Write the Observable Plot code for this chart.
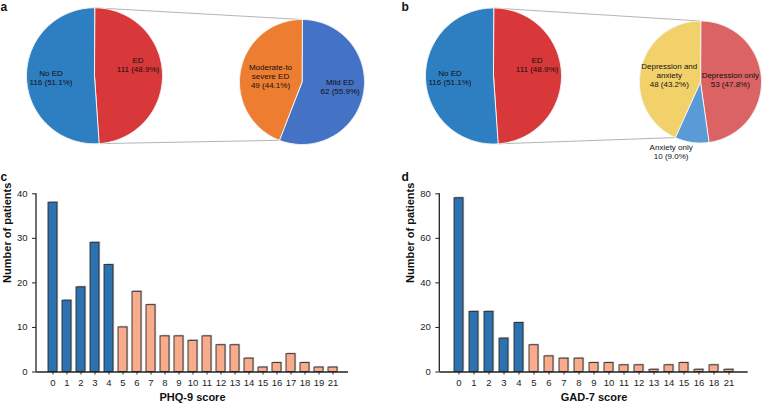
<!DOCTYPE html>
<html><head><meta charset="utf-8">
<script src="https://cdn.jsdelivr.net/npm/d3@7"></script>
<script src="https://cdn.jsdelivr.net/npm/@observablehq/plot@0.6"></script>
<style>
body{margin:0;background:#fff}
#fig{position:relative;width:762px;height:406px;overflow:hidden;font-family:"Liberation Sans",Arial,sans-serif;background:#fff}
#fig .panel{position:absolute}
#fig .letter{position:absolute;font-weight:bold;font-size:12px;line-height:14px;color:#111}
</style></head><body>
<div id="fig"></div>
<script>
// ---------------- data ----------------
const edGroups = ["ED", "No ED"];
const edCounts = [111, 116];
const edPercents = [48.9, 51.1];

const severityGroups = ["Mild ED", "Moderate-to\nsevere ED"];
const severityCounts = [62, 49];
const severityPercents = [55.9, 44.1];

const typeGroups = ["Depression only", "Anxiety only", "Depression and\nanxiety"];
const typeCounts = [53, 10, 48];
const typePercents = [47.8, 9.0, 43.2];

const phqScores = ["0","1","2","3","4","5","6","7","8","9","10","11","12","13","14","15","16","17","18","19","21"];
const phqCounts = [38,16,19,29,24,10,18,15,8,8,7,8,6,6,3,1,2,4,2,1,1];
const phqTicks = [0,10,20,30,40];

const gadScores = ["0","1","2","3","4","5","6","7","8","9","10","11","12","13","14","15","16","18","21"];
const gadCounts = [78,27,27,15,22,12,7,6,6,4,4,3,3,1,3,4,1,3,1];
const gadTicks = [0,20,40,60,80];

const cutoff = 5;

// ---------------- styles / layout ----------------
const edColors = ["#D9383A", "#2E7EC2"];
const severityColors = ["#4472C4", "#ED7D31"];
const typeColors = ["#DB6363", "#5B9BD5", "#F2D16B"];
const barLow = "#2C71B0", barHigh = "#F8AC8C";
const FONT = "Liberation Sans, Arial, sans-serif";

const TOP_H = 166;
const pies = [
  {main: {cx: 94, cy: 75.3, r: 68}, sub: {cx: 301.5, cy: 81.5, r: 62.5},
   subGroups: severityGroups, subCounts: severityCounts, subPercents: severityPercents, subColors: severityColors,
   mainLabel: [{f: 0.64, dy: -9.5}, {f: 0.64, dy: 0}],
   subLabel: [{f: 0.62, dy: -2}, {f: 0.513, dy: 0}]},
  {main: {cx: 493, cy: 75.5, r: 68}, sub: {cx: 700, cy: 81.5, r: 61},
   subGroups: typeGroups, subCounts: typeCounts, subPercents: typePercents, subColors: typeColors,
   mainLabel: [{f: 0.64, dy: -9.5}, {f: 0.64, dy: 0}],
   subLabel: [{f: 0.49, dy: 0}, {f: 1.2, dx: -19, dy: -3}, {f: 0.524, dy: 0}]}
];

// ---------------- pie helpers ----------------
function sliceAngles(counts) {
  const total = d3.sum(counts);
  let acc = 0;
  return counts.map(c => { const a0 = acc / total * 2 * Math.PI; acc += c; return [a0, acc / total * 2 * Math.PI]; });
}
function pt(p, a, rr) { return [p.cx + rr * Math.sin(a), p.cy - rr * Math.cos(a)]; }
function slicePoly(p, a0, a1) {
  const pts = [[p.cx, p.cy]];
  const n = Math.max(2, Math.ceil((a1 - a0) / (Math.PI / 180)));
  for (let i = 0; i <= n; i++) pts.push(pt(p, a0 + (a1 - a0) * i / n, p.r));
  return pts;
}

const topMarks = [];
for (const pie of pies) {
  const mainA = sliceAngles(edCounts);
  const subA = sliceAngles(pie.subCounts);
  const lastStart = subA[subA.length - 1][0];
  const links = [
    {a: pt(pie.main, mainA[0][0], pie.main.r), b: pt(pie.sub, 0, pie.sub.r)},
    {a: pt(pie.main, mainA[0][1], pie.main.r), b: pt(pie.sub, lastStart, pie.sub.r)}
  ];
  topMarks.push(Plot.link(links, {x1: d => d.a[0], y1: d => d.a[1], x2: d => d.b[0], y2: d => d.b[1], stroke: "#b5b5b5", strokeWidth: 1}));
  const addPie = (p, angles, colors, groups, counts, percents, lab) => {
    angles.forEach(([a0, a1], i) => {
      topMarks.push(Plot.line(slicePoly(p, a0, a1), {x: d => d[0], y: d => d[1], fill: colors[i], stroke: "#f4f4f4", strokeWidth: 1, curve: "linear-closed"}));
    });
    const labels = angles.map(([a0, a1], i) => {
      const m = (a0 + a1) / 2, L = lab[i];
      const [x, y] = pt(p, m, p.r * L.f);
      return {x: x + (L.dx || 0), y: y + (L.dy || 0), text: `${groups[i]}\n${counts[i]} (${percents[i].toFixed(1)}%)`};
    });
    topMarks.push(Plot.text(labels, {x: "x", y: "y", text: "text", fontSize: 8, lineHeight: 1.13, fill: "#111"}));
  };
  addPie(pie.main, mainA, edColors, edGroups, edCounts, edPercents, pie.mainLabel);
  addPie(pie.sub, subA, pie.subColors, pie.subGroups, pie.subCounts, pie.subPercents, pie.subLabel);
}

const fig = document.getElementById("fig");
const topPlot = Plot.plot({
  width: 762, height: TOP_H, margin: 0,
  x: {type: "linear", domain: [0, 762], range: [0, 762], axis: null},
  y: {type: "linear", domain: [0, TOP_H], range: [0, TOP_H], axis: null},
  style: {fontFamily: FONT, background: "transparent"},
  marks: topMarks
});
const topWrap = document.createElement("div");
topWrap.className = "panel"; topWrap.style.left = "0px"; topWrap.style.top = "0px";
topWrap.appendChild(topPlot); fig.appendChild(topWrap);

// ---------------- bar charts ----------------
function yAxisLine(top) {
  return (index, scales, values, dimensions) => {
    const line = document.createElementNS("http://www.w3.org/2000/svg", "line");
    const x = dimensions.marginLeft;
    line.setAttribute("x1", x); line.setAttribute("x2", x);
    line.setAttribute("y1", scales.y(0)); line.setAttribute("y2", scales.y(top));
    line.setAttribute("stroke", "#222"); line.setAttribute("stroke-width", 1.3);
    return line;
  };
}

function barChart(scores, counts, ticks, title, opts) {
  const data = scores.map((s, i) => ({score: s, count: counts[i], fill: +s < cutoff ? barLow : barHigh}));
  const yMax = ticks[ticks.length - 1];
  return Plot.plot({
    width: 381, height: 240,
    marginLeft: opts.ml, marginRight: opts.mr, marginTop: 27.3, marginBottom: 34.5,
    style: {fontFamily: FONT, fontSize: "9.5px", color: "#222", background: "transparent"},
    x: {type: "band", domain: scores, paddingInner: opts.pi, paddingOuter: opts.po, align: 0.5,
        tickSize: 3, tickPadding: 4, label: null},
    y: {domain: [0, yMax], ticks: ticks, tickSize: 4, tickPadding: 5, label: null},
    marks: [
      Plot.barY(data, {x: "score", y: "count", fill: "#c9c9c9", dx: 1.2, dy: -1.2}),
      Plot.barY(data, {x: "score", y: "count", fill: d => d.fill, stroke: "#2a2a2a", strokeWidth: 0.9}),
      Plot.ruleY([0], {stroke: "#222", strokeWidth: 1.3}),
      yAxisLine(yMax),
      Plot.text([title], {text: d => d, frameAnchor: "bottom", dy: 29, fontWeight: "bold", fontSize: 11, fill: "#111"}),
      Plot.text(["Number of patients"], {text: d => d, frameAnchor: "left", dx: -29, rotate: -90, fontWeight: "bold", fontSize: 11, fill: "#111"})
    ]
  });
}

const cPlot = barChart(phqScores, phqCounts, phqTicks, "PHQ-9 score", {ml: 36, mr: 33, pi: 0.36, po: 0.46});
const dPlot = barChart(gadScores, gadCounts, gadTicks, "GAD-7 score", {ml: 58.3, mr: 14.3, pi: 0.37, po: 0.35});
[[cPlot, 0], [dPlot, 381]].forEach(([p, left]) => {
  const w = document.createElement("div");
  w.className = "panel"; w.style.left = left + "px"; w.style.top = "166px";
  w.appendChild(p); fig.appendChild(w);
});

// panel letters
[["a", 0.5, 0], ["b", 401.5, 0], ["c", 0.5, 170], ["d", 401.5, 170]].forEach(([t, x, y]) => {
  const s = document.createElement("div");
  s.className = "letter"; s.textContent = t; s.style.left = x + "px"; s.style.top = y + "px";
  fig.appendChild(s);
});
</script>
</body></html>
